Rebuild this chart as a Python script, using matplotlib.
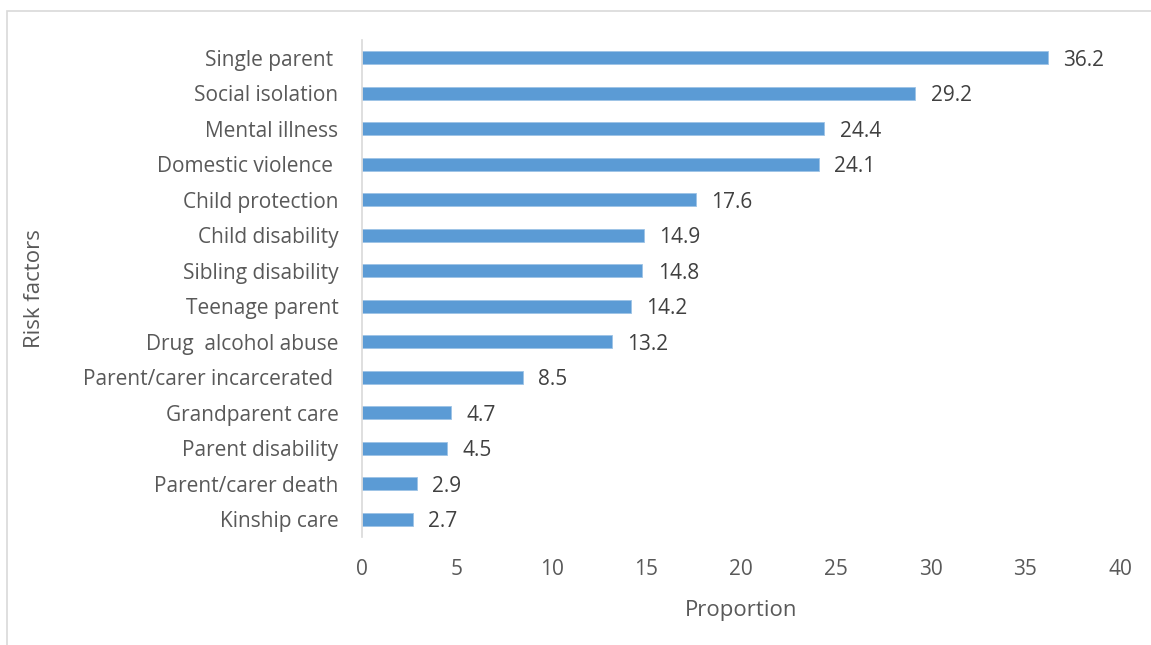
import matplotlib.pyplot as plt
from matplotlib.patches import Rectangle

# --- data (top to bottom as shown) ---
factors = ['Single parent ', 'Social isolation', 'Mental illness', 'Domestic violence ',
           'Child protection', 'Child disability', 'Sibling disability', 'Teenage parent',
           'Drug  alcohol abuse', 'Parent/carer incarcerated ', 'Grandparent care',
           'Parent disability', 'Parent/carer death', 'Kinship care']
proportions = [36.2, 29.2, 24.4, 24.1, 17.6, 14.9, 14.8, 14.2, 13.2, 8.5, 4.7, 4.5, 2.9, 2.7]
x_ticks = [0, 5, 10, 15, 20, 25, 30, 35, 40]

plt.rcParams['font.family'] = ['Open Sans', 'DejaVu Sans']

fig = plt.figure(figsize=(11.51, 6.45), dpi=100)
ax = fig.add_axes([0.3145, 0.1674, 0.6586, 0.7706])

# chart area border (Excel style)
fig.patches.append(Rectangle((7 / 1151, -0.05), 1.1, 1 - 11 / 645 + 0.05,
                             transform=fig.transFigure, fill=False,
                             edgecolor='#d9d9d9', linewidth=1.2))

ypos = list(range(len(factors)))[::-1]
ax.barh(ypos, proportions, height=0.36, color='#5B9BD5', edgecolor='#9DC3E6', linewidth=0.6)

for y, v in zip(ypos, proportions):
    ax.text(v + 0.8, y, f"{v}", va='center_baseline', ha='left', fontsize=15, color='#404040')

ax.set_xlim(0, 40)
ax.set_ylim(-0.5, len(factors) - 0.5)
ax.set_xticks(x_ticks)
ax.set_xticklabels([str(t) for t in x_ticks], fontsize=15, color='#595959')
ax.set_yticks(ypos)
ax.set_yticklabels(factors, fontsize=15, color='#595959')
ax.tick_params(axis='both', length=0)
ax.tick_params(axis='x', pad=16)
ax.tick_params(axis='y', pad=17)

for s in ['top', 'right', 'bottom']:
    ax.spines[s].set_visible(False)
ax.spines['left'].set_color('#d9d9d9')
ax.spines['left'].set_linewidth(1.2)

ax.set_xlabel('Proportion', fontsize=16, color='#595959', labelpad=14)
ax.set_ylabel('Risk factors', fontsize=16, color='#595959')
ax.yaxis.set_label_coords(-0.418, 0.5, transform=ax.transAxes)

fig.savefig('out.png', dpi=100)
